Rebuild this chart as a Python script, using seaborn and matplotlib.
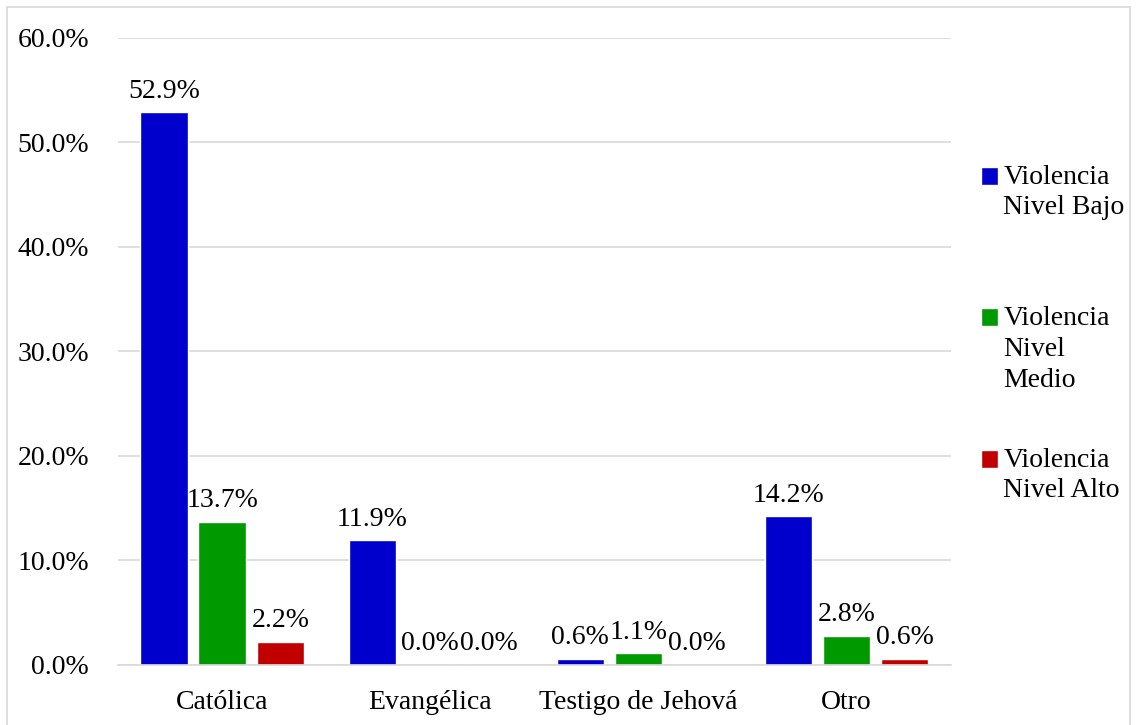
import numpy as np
import pandas as pd
import matplotlib
matplotlib.use("Agg")
import matplotlib.pyplot as plt
import seaborn as sns
from matplotlib.patches import Rectangle

# Datos (porcentajes)
religiones = ["Católica", "Evangélica", "Testigo de Jehová", "Otro"]
niveles = ["Violencia\nNivel Bajo\n", "Violencia\nNivel\nMedio", "Violencia\nNivel Alto\n"]
bajo = [52.9, 11.9, 0.6, 14.2]
medio = [13.7, 0.0, 1.1, 2.8]
alto = [2.2, 0.0, 0.0, 0.6]
y_ticks = [0, 10, 20, 30, 40, 50, 60]

colores = ["#0000CC", "#009900", "#C00000"]

df = pd.DataFrame({
    "religion": religiones * 3,
    "nivel": [niveles[0]] * 4 + [niveles[1]] * 4 + [niveles[2]] * 4,
    "valor": bajo + medio + alto,
})

sns.set_style("white")
plt.rcParams["font.family"] = ["Liberation Serif", "DejaVu Serif"]
plt.rcParams["text.color"] = "black"
plt.rcParams["xtick.color"] = "black"
plt.rcParams["ytick.color"] = "black"

fig = plt.figure(figsize=(11.37, 7.25), dpi=100)
ax = fig.add_axes([0.104, 0.083, 0.732, 0.865])

sns.barplot(data=df, x="religion", y="valor", hue="nivel", order=religiones,
            hue_order=niveles, palette=colores, width=0.837, gap=0.18,
            saturation=1, ax=ax)

for cont in ax.containers:
    ax.bar_label(cont, fmt="%.1f%%", padding=6, fontsize=20, color="black")

ax.set_ylim(0, 60)
ax.set_xlim(-0.5, 3.5)
ax.set_yticks(y_ticks)
ax.set_yticklabels([f"{v:.1f}%" for v in y_ticks])
ax.yaxis.grid(True, color="#d9d9d9", linewidth=1.2)
ax.set_axisbelow(True)
ax.tick_params(axis="y", labelsize=20, length=0, pad=21)
ax.tick_params(axis="x", labelsize=20, length=0, pad=18)
ax.set_xlabel("")
ax.set_ylabel("")
for s in ["top", "right", "left"]:
    ax.spines[s].set_visible(False)
ax.spines["bottom"].set_color("#d9d9d9")
ax.spines["bottom"].set_linewidth(1.2)

leg = ax.legend(loc="center left", bbox_to_anchor=(1.006, 0.503), frameon=False,
                fontsize=20, handlelength=0.62, handleheight=0.62,
                handletextpad=0.2, labelspacing=1.98)
for t in leg.get_texts():
    t.set_linespacing(1.3)
# mover el cuadrado a la altura de la primera linea
for p in leg.get_patches():
    p.set_y(p.get_y() + 23)

fig.add_artist(Rectangle((0.006, -0.01), 0.988, 1.001, transform=fig.transFigure,
                         fill=False, edgecolor="#d9d9d9", linewidth=1.2))

fig.savefig("out.png", dpi=100)
